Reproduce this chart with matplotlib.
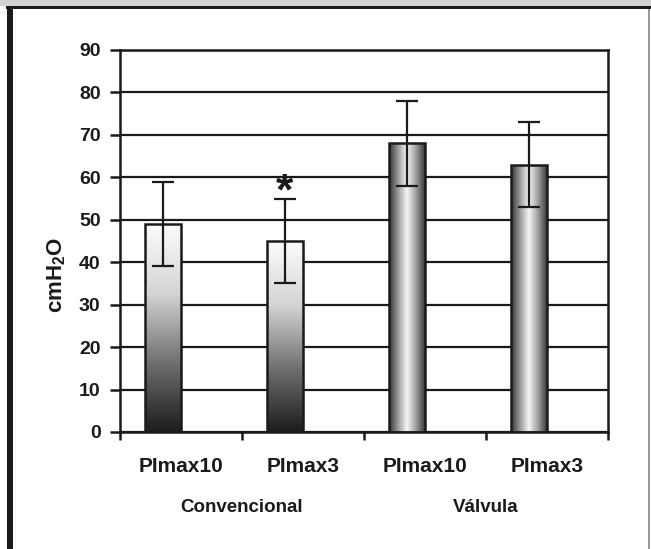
import numpy as np
import matplotlib.pyplot as plt
from matplotlib.patches import Rectangle
from matplotlib.colors import LinearSegmentedColormap

plt.rcParams['font.family'] = ['Liberation Sans', 'DejaVu Sans']
plt.rcParams['font.weight'] = 'bold'
plt.rcParams['mathtext.fontset'] = 'custom'
plt.rcParams['mathtext.rm'] = 'Liberation Sans:bold'
plt.rcParams['mathtext.bf'] = 'Liberation Sans:bold'

# data
labels = ['PImax10', 'PImax3', 'PImax10', 'PImax3']
groups = ['Convencional', 'Válvula']
values = [49, 45, 68, 63]
errors = [10, 10, 10, 10]
yticks = [0, 10, 20, 30, 40, 50, 60, 70, 80, 90]

W, H = 651, 549
fig = plt.figure(figsize=(W / 100, H / 100), dpi=100)
ax = fig.add_axes([120 / W, (H - 432) / H, (608 - 120) / W, (432 - 50) / H])

x = np.arange(len(values))
bars = ax.bar(x - 0.15, values, width=0.295, color='none', edgecolor='#1a1a1a',
              linewidth=1.8, zorder=3)
ax.errorbar(x - 0.15, values, yerr=errors, fmt='none', ecolor='#1a1a1a',
            elinewidth=1.6, capsize=8, capthick=1.6, zorder=5)

vert = LinearSegmentedColormap.from_list('v', ['#1c1c1c', '#707070', '#d4d4d4', '#fcfcfc'])
horiz = LinearSegmentedColormap.from_list('h', ['#333333', '#999999', '#f6f6f6', '#a0a0a0', '#3a3a3a'])
for i, b in enumerate(bars):
    bx, by = b.get_x(), b.get_y()
    bw, bh = b.get_width(), b.get_height()
    if i < 2:
        grad = np.linspace(0, 1, 256).reshape(-1, 1)
        im = ax.imshow(grad, cmap=vert, origin='lower', aspect='auto',
                       extent=[bx, bx + bw, by, by + bh], zorder=2)
    else:
        grad = np.linspace(0, 1, 256).reshape(1, -1)
        im = ax.imshow(grad, cmap=horiz, aspect='auto',
                       extent=[bx, bx + bw, by, by + bh], zorder=2)
    im.set_clip_path(b)

# significance mark over the second bar
ax.text(x[1] - 0.15, 53.6, '*', ha='center', va='baseline', fontsize=32,
        fontweight='bold', color='#1a1a1a', zorder=6)

ax.set_xlim(-0.5, 3.5)
ax.set_ylim(0, 90)
ax.set_yticks(yticks)
ax.yaxis.grid(True, color='#1a1a1a', linewidth=1.6)
ax.set_axisbelow(True)
for s in ax.spines.values():
    s.set_linewidth(1.8)
    s.set_color('#1a1a1a')

ax.set_xticks(np.arange(-0.5, 4, 1))
ax.set_xticklabels([])
ax.set_xticks(x, minor=True)
ax.set_xticklabels(labels, minor=True, fontsize=15, fontweight='bold', color='#1a1a1a')
ax.tick_params(axis='x', which='major', direction='out', length=6, width=1.8, color='#1a1a1a')
ax.tick_params(axis='x', which='minor', length=0, pad=18)
ax.tick_params(axis='y', direction='out', length=7, width=1.8, color='#1a1a1a',
               labelsize=14, pad=7, labelcolor='#1a1a1a')
for t in ax.get_yticklabels():
    t.set_fontweight('bold')

ax.yaxis.set_label_coords(57 / W, 0.5, transform=fig.transFigure)
ax.set_ylabel(r'cmH$_\mathbf{2}$O', fontsize=16, fontweight='bold', color='#1a1a1a',
              va='center')

for gi, g in enumerate(groups):
    fig.text((120 + 122 * (1 + 2 * gi)) / W, 1 - 508 / H, g, ha='center', va='center',
             fontsize=13.5, fontweight='bold', color='#1a1a1a')

# frame around the panel
fig.add_artist(Rectangle((0, 1 - 6 / H), 1, 6 / H, transform=fig.transFigure,
                         facecolor='#d2d2d2', edgecolor='none'))
fig.add_artist(Rectangle((6 / W, 1 - 9 / H), 1, 3 / H, transform=fig.transFigure,
                         facecolor='#1a1a1a', edgecolor='none'))
fig.add_artist(Rectangle((7 / W, 0), 6 / W, 1 - 6 / H, transform=fig.transFigure,
                         facecolor='#1a1a1a', edgecolor='none'))
fig.add_artist(Rectangle((648 / W, 0), 1.5 / W, 1 - 9 / H, transform=fig.transFigure,
                         facecolor='#999999', edgecolor='none'))

fig.savefig('out.png', dpi=100)
